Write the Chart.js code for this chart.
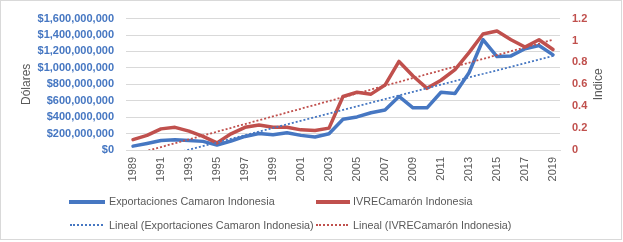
<!DOCTYPE html>
<html>
<head>
<meta charset="utf-8">
<script src="https://cdn.jsdelivr.net/npm/chart.js@4/dist/chart.umd.min.js"></script>
<style>
  html, body { margin: 0; padding: 0; background: #fff; }
  #wrap { position: relative; width: 623px; height: 242px; overflow: hidden; font-family: "Liberation Sans", Arial, sans-serif; }
  #frame { position: absolute; left: 0; top: 0; width: 620px; height: 238px; border: 1px solid #d9d9d9; }
  canvas { position: absolute; left: 0; top: 0; }
  .lg { position: absolute; font-size: 10.8px; line-height: 13px; color: #595959; white-space: nowrap; }
  .sw { position: absolute; }
</style>
</head>
<body>
<div id="wrap">
  <div id="frame"></div>
  <canvas id="c" width="623" height="242"></canvas>
  <div id="legend"></div>
</div>
<script>
// ---- data ----
const years = [1989,1990,1991,1992,1993,1994,1995,1996,1997,1998,1999,2000,2001,2002,2003,2004,2005,2006,2007,2008,2009,2010,2011,2012,2013,2014,2015,2016,2017,2018,2019];
const exportaciones = [47e6,80e6,115e6,125e6,115e6,105e6,60e6,110e6,165e6,200e6,185e6,210e6,178e6,158e6,197e6,375e6,403e6,454e6,486e6,652e6,513e6,513e6,703e6,687e6,940e6,1343e6,1138e6,1146e6,1233e6,1272e6,1158e6];
const ivre = [0.095,0.133,0.193,0.207,0.172,0.124,0.065,0.148,0.207,0.228,0.207,0.207,0.184,0.178,0.200,0.489,0.527,0.510,0.593,0.809,0.676,0.563,0.637,0.735,0.889,1.060,1.087,1.007,0.940,1.007,0.918];
// trend line end values (1989 and 2019)
const trendExportEnds = [-170e6, 1146e6];
const trendIvreEnds = [-0.043, 1.007];
const leftTicks = [0,2e8,4e8,6e8,8e8,10e8,12e8,14e8,16e8];
const rightTicks = [0,0.2,0.4,0.6,0.8,1,1.2];
const seriesNames = ['Exportaciones Camaron Indonesia','IVRECamarón Indonesia','Lineal (Exportaciones Camaron Indonesia)','Lineal (IVRECamarón Indonesia)'];
const leftTitle = 'Dólares';
const rightTitle = 'Indice';

const BLUE = '#4677c2';
const RED = '#c0504d';
const GRAY = '#595959';
const FONT = '"Liberation Sans", Arial, sans-serif';

function ends(arr) {
  return years.map((y, i) => i === 0 ? arr[0] : (i === years.length - 1 ? arr[1] : null));
}

const textPlugin = {
  id: 'extraText',
  afterDraw(chart) {
    const sc = chart.scales.x;
    const ctx = chart.ctx;
    const area = chart.chartArea;
    ctx.save();
    ctx.font = '11px ' + FONT;
    ctx.fillStyle = GRAY;
    ctx.textAlign = 'right';
    ctx.textBaseline = 'middle';
    years.forEach((y, i) => {
      if (y % 2 === 0) return;
      const x = sc.getPixelForValue(i);
      ctx.save();
      ctx.translate(x, area.bottom + 7);
      ctx.rotate(-Math.PI / 2);
      ctx.fillText(String(y), 0, 0);
      ctx.restore();
    });
    // axis titles (both read bottom-to-top)
    ctx.font = '12px ' + FONT;
    ctx.textAlign = 'center';
    const cy = (area.top + area.bottom) / 2;
    [[27, leftTitle], [599, rightTitle]].forEach(([x, t]) => {
      ctx.save();
      ctx.translate(x, cy);
      ctx.rotate(-Math.PI / 2);
      ctx.fillText(t, 0, 0);
      ctx.restore();
    });
    ctx.restore();
  }
};

new Chart(document.getElementById('c'), {
  type: 'line',
  data: {
    labels: years.map(String),
    datasets: [
      { label: seriesNames[2], data: ends(trendExportEnds), yAxisID: 'y', borderColor: BLUE, borderWidth: 1.8, borderDash: [2, 2], pointRadius: 0, spanGaps: true, fill: false },
      { label: seriesNames[3], data: ends(trendIvreEnds), yAxisID: 'y1', borderColor: RED, borderWidth: 1.8, borderDash: [2, 2], pointRadius: 0, spanGaps: true, fill: false },
      { label: seriesNames[1], data: ivre, yAxisID: 'y1', borderColor: RED, borderWidth: 3.5, pointRadius: 0, tension: 0, borderJoinStyle: 'round', borderCapStyle: 'round', fill: false },
      { label: seriesNames[0], data: exportaciones, yAxisID: 'y', borderColor: BLUE, borderWidth: 3.5, pointRadius: 0, tension: 0, borderJoinStyle: 'round', borderCapStyle: 'round', fill: false }
    ]
  },
  options: {
    responsive: false,
    animation: false,
    devicePixelRatio: 1,
    layout: { padding: { top: 15, left: 0, right: 0, bottom: 0 } },
    plugins: { legend: { display: false }, tooltip: { enabled: false } },
    scales: {
      x: {
        type: 'category',
        offset: true,
        grid: { display: false, drawTicks: false },
        border: { display: true, color: '#d9d9d9', width: 1 },
        ticks: { display: false },
        afterFit(s) { s.height = 92; }
      },
      y: {
        position: 'left',
        min: 0, max: 1.6e9,
        afterBuildTicks(s) { s.ticks = leftTicks.map(v => ({ value: v })); },
        grid: { color: '#d9d9d9', lineWidth: 1, drawTicks: false },
        border: { display: false },
        ticks: {
          padding: 12,
          color: BLUE,
          font: { family: FONT, size: 11, weight: 'bold' },
          callback: v => '$' + Number(v).toLocaleString('en-US')
        },
        afterFit(s) { s.width = 126; }
      },
      y1: {
        position: 'right',
        min: 0, max: 1.2,
        afterBuildTicks(s) { s.ticks = rightTicks.map(v => ({ value: v })); },
        grid: { display: false, drawTicks: false },
        border: { display: false },
        ticks: {
          padding: 12,
          color: RED,
          font: { family: FONT, size: 11, weight: 'bold' },
          callback: v => String(Math.round(v * 10) / 10)
        },
        afterFit(s) { s.width = 63; }
      }
    }
  },
  plugins: [textPlugin]
});

// ---- legend (HTML, two rows x two columns) ----
const legendItems = [
  { name: seriesNames[0], color: BLUE, dotted: false, sx: 69, sw: 36, tx: 109, cy: 201.5 },
  { name: seriesNames[1], color: RED, dotted: false, sx: 316, sw: 34, tx: 353, cy: 201.5 },
  { name: seriesNames[2], color: BLUE, dotted: true, sx: 70, sw: 33, tx: 109, cy: 225 },
  { name: seriesNames[3], color: RED, dotted: true, sx: 316, sw: 32, tx: 353, cy: 225 }
];
const lg = document.getElementById('legend');
legendItems.forEach(it => {
  const s = document.createElement('div');
  s.className = 'sw';
  s.style.left = it.sx + 'px';
  s.style.width = it.sw + 'px';
  if (it.dotted) {
    s.style.top = (it.cy - 1) + 'px';
    s.style.height = '0px';
    s.style.borderTop = '2px dotted ' + it.color;
  } else {
    s.style.top = (it.cy - 2) + 'px';
    s.style.height = '4px';
    s.style.background = it.color;
  }
  lg.appendChild(s);
  const t = document.createElement('div');
  t.className = 'lg';
  t.style.left = it.tx + 'px';
  t.style.top = (it.cy - 6.5) + 'px';
  t.textContent = it.name;
  lg.appendChild(t);
});
</script>
</body>
</html>
